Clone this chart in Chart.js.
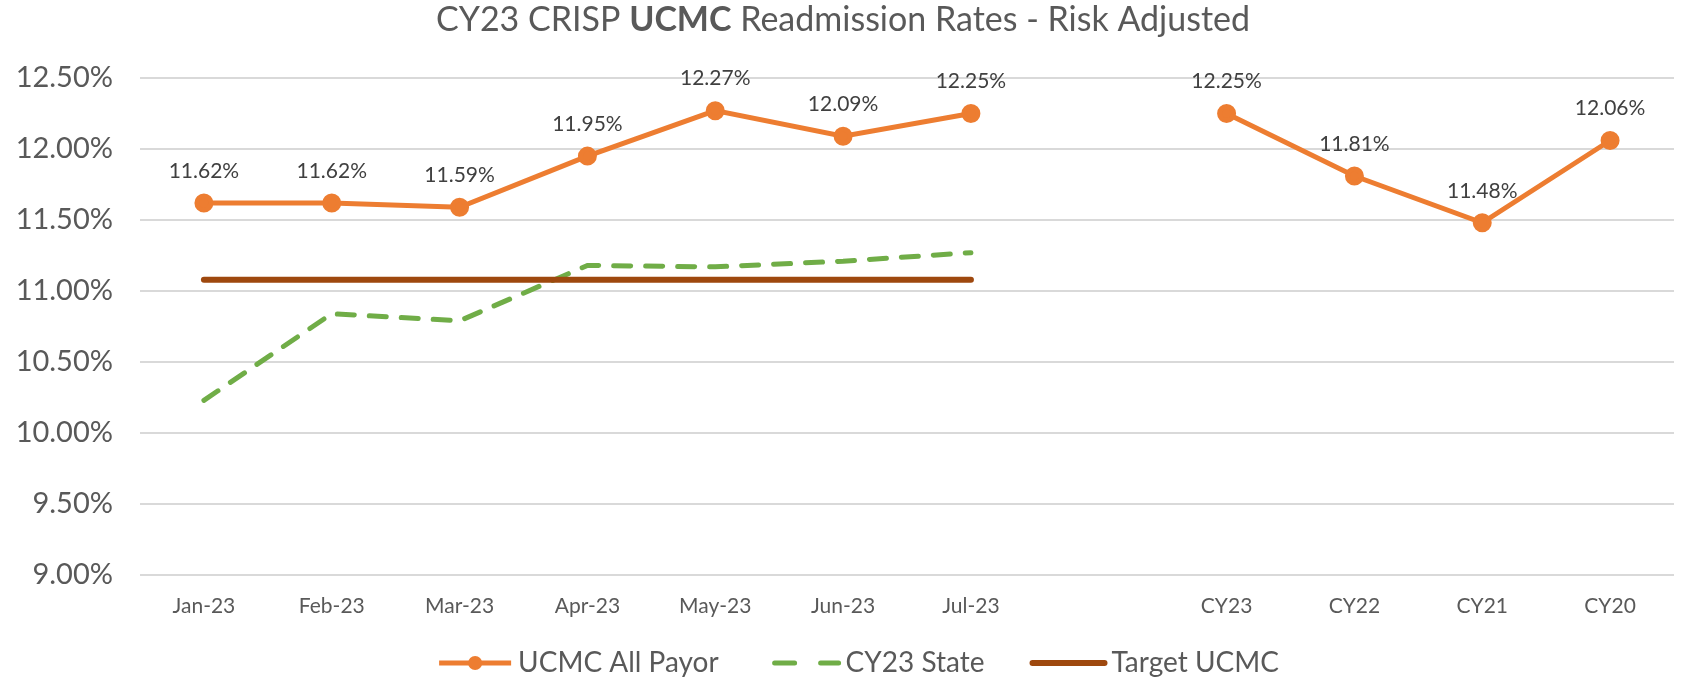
<!DOCTYPE html>
<html>
<head>
<meta charset="utf-8">
<script src="https://cdn.jsdelivr.net/npm/chart.js@4.4.0/dist/chart.umd.min.js"></script>
<style>
  html, body { margin: 0; padding: 0; background: #fff; }
</style>
</head>
<body>
<canvas id="myChart" width="1686" height="681"></canvas>
<script>
const categories = ["Jan-23", "Feb-23", "Mar-23", "Apr-23", "May-23", "Jun-23", "Jul-23", "", "CY23", "CY22", "CY21", "CY20"];
const allPayor = [11.62, 11.62, 11.59, 11.95, 12.27, 12.09, 12.25, null, 12.25, 11.81, 11.48, 12.06];
const stateRate = [10.23, 10.84, 10.79, 11.18, 11.17, 11.21, 11.27, null, null, null, null, null];
const targetRate = [11.08, 11.08, 11.08, 11.08, 11.08, 11.08, 11.08, null, null, null, null, null];
const seriesNames = ["UCMC All Payor", "CY23 State", "Target UCMC"];
const titleParts = [["CY23 CRISP ", "normal"], ["UCMC", "bold"], [" Readmission Rates - Risk Adjusted", "normal"]];

const FONT = "Lato";
const GREY = "#595959";

// title with a bold word in the middle
const titlePlugin = {
  id: "mixedTitle",
  afterDraw(chart) {
    const ctx = chart.ctx;
    const size = 34;
    ctx.save();
    ctx.textBaseline = "middle";
    ctx.fillStyle = GREY;
    let total = 0;
    titleParts.forEach(([t, w]) => {
      ctx.font = w + " " + size + "px " + FONT;
      total += ctx.measureText(t).width;
    });
    let x = chart.width / 2 - total / 2;
    titleParts.forEach(([t, w]) => {
      ctx.font = w + " " + size + "px " + FONT;
      ctx.fillText(t, x, 20);
      x += ctx.measureText(t).width;
    });
    ctx.restore();
  },
};

// value labels above the orange points
const valueLabels = {
  id: "valueLabels",
  afterDatasetsDraw(chart) {
    const ctx = chart.ctx;
    const meta = chart.getDatasetMeta(0);
    ctx.save();
    ctx.font = "21px " + FONT;
    ctx.fillStyle = "#404040";
    ctx.textAlign = "center";
    ctx.textBaseline = "middle";
    meta.data.forEach((pt, i) => {
      const v = allPayor[i];
      if (v == null) return;
      ctx.fillText(v.toFixed(2) + "%", pt.x, pt.y - 32);
    });
    ctx.restore();
  },
};

// legend at the bottom, drawn like the Excel one
const bottomLegend = {
  id: "bottomLegend",
  afterDraw(chart) {
    const ctx = chart.ctx;
    const sample = 72, gapText = 7, gapItem = 48, y = 663;
    ctx.save();
    ctx.font = "28px " + FONT;
    ctx.textBaseline = "middle";
    const widths = seriesNames.map((n) => ctx.measureText(n).width);
    let total = 0;
    widths.forEach((w, i) => { total += sample + gapText + w + (i ? gapItem : 0); });
    // the original legend sits a little right of centre
    let x = chart.width / 2 - total / 2 + 16;
    chart.data.datasets.forEach((ds, i) => {
      ctx.save();
      ctx.strokeStyle = ds.borderColor;
      ctx.lineWidth = ds.borderWidth;
      ctx.lineCap = ds.borderCapStyle || "butt";
      // legend dashes are a bit longer so two fit, as in the original
      ctx.setLineDash(ds.borderDash ? [20, 26] : []);
      ctx.beginPath();
      ctx.moveTo(x + (ds.borderDash ? 8 : 0), y);
      ctx.lineTo(x + sample, y);
      ctx.stroke();
      if (ds.pointRadius > 0) {
        ctx.setLineDash([]);
        ctx.fillStyle = ds.pointBackgroundColor;
        ctx.beginPath();
        ctx.arc(x + sample / 2, y, ds.pointRadius, 0, Math.PI * 2);
        ctx.fill();
      }
      ctx.restore();
      ctx.fillStyle = GREY;
      ctx.fillText(seriesNames[i], x + sample + gapText, y);
      x += sample + gapText + widths[i] + gapItem;
    });
    ctx.restore();
  },
};

const config = {
  type: "line",
  data: {
    labels: categories,
    datasets: [
      {
        label: seriesNames[0],
        data: allPayor,
        borderColor: "#ED7D31",
        backgroundColor: "#ED7D31",
        pointBackgroundColor: "#ED7D31",
        pointBorderColor: "#ED7D31",
        borderWidth: 5,
        pointRadius: 7,
        spanGaps: false,
        tension: 0,
        order: 0,
      },
      {
        label: seriesNames[1],
        data: stateRate,
        borderColor: "#70AD47",
        borderWidth: 5,
        borderDash: [17, 15],
        borderCapStyle: "round",
        pointRadius: 0,
        tension: 0,
        order: 2,
      },
      {
        label: seriesNames[2],
        data: targetRate,
        borderColor: "#9E480E",
        borderWidth: 6,
        borderCapStyle: "round",
        pointRadius: 0,
        tension: 0,
        order: 1,
      },
    ],
  },
  options: {
    responsive: false,
    animation: false,
    layout: {
      padding: { top: 78, bottom: 56, left: 0, right: 0 },
    },
    plugins: {
      legend: { display: false },
      title: { display: false },
      tooltip: { enabled: false },
    },
    scales: {
      x: {
        offset: true,
        grid: { display: false, drawTicks: false },
        border: { display: false },
        ticks: {
          font: { family: FONT, size: 21 },
          color: GREY,
          padding: 19,
          maxRotation: 0,
          autoSkip: false,
        },
        afterFit(scale) { scale.height = 50; },
      },
      y: {
        min: 9,
        max: 12.5,
        grid: { color: "#D9D9D9", lineWidth: 2, drawTicks: false },
        border: { display: false },
        ticks: {
          stepSize: 0.5,
          font: { family: FONT, size: 29 },
          color: GREY,
          padding: 27,
          callback: (v) => v.toFixed(2) + "%",
        },
        afterFit(scale) { scale.width = 140; },
      },
    },
  },
  plugins: [titlePlugin, valueLabels, bottomLegend],
};

const myChart = new Chart(document.getElementById("myChart"), config);
</script>
</body>
</html>
